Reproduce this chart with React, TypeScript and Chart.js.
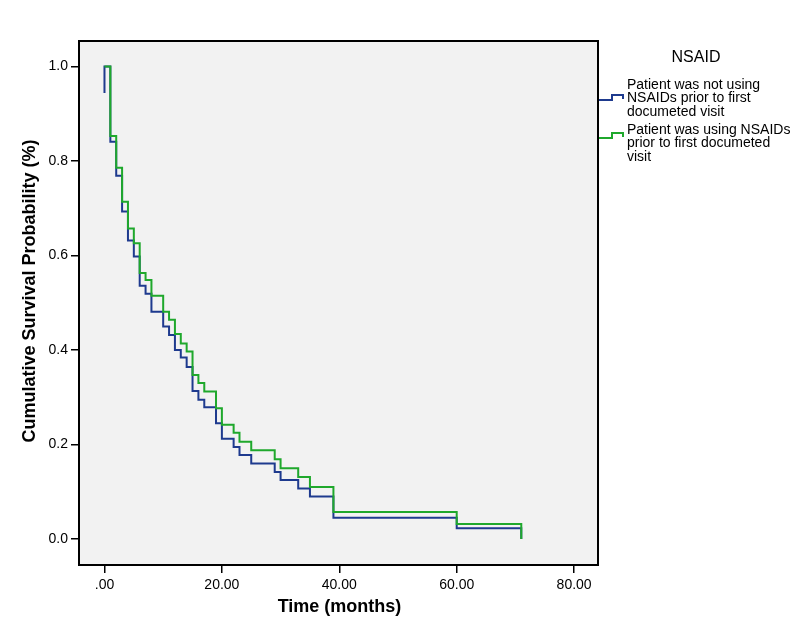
import React, { useEffect, useRef } from 'react';
import { Chart, registerables } from 'chart.js';

Chart.register(...registerables);

// ---- data ----
const times = [0, 1, 2, 3, 4, 5, 6, 7, 8, 10, 11, 12, 13, 14, 15, 16, 17, 19, 20, 22, 23, 25, 29, 30, 33, 35, 39, 60, 71];
const survivalNotUsing = [1.0, 0.841, 0.769, 0.693, 0.632, 0.598, 0.536, 0.519, 0.481, 0.45, 0.432, 0.4, 0.384, 0.364, 0.313, 0.295, 0.279, 0.245, 0.212, 0.195, 0.178, 0.16, 0.142, 0.125, 0.107, 0.09, 0.045, 0.023, 0.0];
const survivalUsing = [1.0, 0.853, 0.786, 0.714, 0.657, 0.626, 0.563, 0.548, 0.515, 0.481, 0.464, 0.434, 0.414, 0.397, 0.347, 0.33, 0.312, 0.277, 0.242, 0.225, 0.206, 0.188, 0.169, 0.15, 0.131, 0.11, 0.057, 0.032, 0.0];
const notUsingStartValue = 0.944;

const xTickValues = [0, 20, 40, 60, 80];
const yTickValues = [0, 0.2, 0.4, 0.6, 0.8, 1.0];

const legendTitle = 'NSAID';
const seriesNames = ['Patient was not using NSAIDs prior to first documeted visit', 'Patient was using NSAIDs prior to first documeted visit'];
const legendLines = [
  ['Patient was not using', 'NSAIDs prior to first', 'documeted visit'],
  ['Patient was using NSAIDs', 'prior to first documeted', 'visit'],
];
const xTitle = 'Time (months)';
const yTitle = 'Cumulative Survival Probability (%)';

const BLUE = '#1e3a8e';
const GREEN = '#1fa82c';
const FONT = "Arial, 'Liberation Sans', sans-serif";

const decorPlugin = {
  id: 'decor',
  beforeDraw(chart: any) {
    const { ctx, chartArea } = chart;
    const { left, top, right, bottom } = chartArea;
    ctx.save();
    ctx.fillStyle = '#ffffff';
    ctx.fillRect(0, 0, chart.width, chart.height);
    ctx.fillStyle = '#f2f2f2';
    ctx.fillRect(left, top, right - left, bottom - top);
    ctx.restore();
  },
  afterDraw(chart: any) {
    const { ctx, chartArea } = chart;
    const { left, top, right, bottom } = chartArea;
    ctx.save();
    // plot frame
    ctx.strokeStyle = '#000';
    ctx.lineWidth = 2;
    ctx.strokeRect(left, top, right - left, bottom - top);

    // axis titles
    ctx.fillStyle = '#000';
    ctx.font = `bold 18px ${FONT}`;
    ctx.textAlign = 'center';
    ctx.textBaseline = 'middle';
    ctx.fillText(xTitle, (left + right) / 2 + 1, 607);
    ctx.save();
    ctx.translate(30, 291);
    ctx.rotate(-Math.PI / 2);
    ctx.fillText(yTitle, 0, 0);
    ctx.restore();

    // legend
    ctx.font = `16px ${FONT}`;
    ctx.textAlign = 'center';
    ctx.fillText(legendTitle, 696, 58);
    const colors = [BLUE, GREEN];
    const blockTops = [85, 130];
    const iconY = [100, 138];
    ctx.font = `14px ${FONT}`;
    ctx.textAlign = 'left';
    legendLines.forEach((lines, i) => {
      lines.forEach((ln, j) => {
        ctx.fillStyle = '#000';
        ctx.fillText(ln, 627, blockTops[i] + j * 13.6);
      });
      const y = iconY[i];
      ctx.strokeStyle = colors[i];
      ctx.lineWidth = 2;
      ctx.beginPath();
      ctx.moveTo(599, y);
      ctx.lineTo(612, y);
      ctx.lineTo(612, y - 5);
      ctx.lineTo(623, y - 5);
      ctx.lineTo(623, y - 1);
      ctx.stroke();
    });
    ctx.restore();
  },
};

export default function App() {
  const canvasRef = useRef<HTMLCanvasElement | null>(null);

  useEffect(() => {
    const canvas = canvasRef.current;
    if (!canvas) return;
    const blueData = [{ x: 0, y: notUsingStartValue }, ...times.map((t, i) => ({ x: t, y: survivalNotUsing[i] }))];
    const greenData = times.map((t, i) => ({ x: t, y: survivalUsing[i] }));

    const chart = new Chart(canvas, {
      type: 'line',
      data: {
        datasets: [
          {
            label: seriesNames[1],
            data: greenData,
            borderColor: GREEN,
            borderWidth: 2,
            stepped: true,
            pointRadius: 0,
            fill: false,
            order: 1,
          },
          {
            label: seriesNames[0],
            data: blueData,
            borderColor: BLUE,
            borderWidth: 2,
            stepped: true,
            pointRadius: 0,
            fill: false,
            order: 2,
          },
        ],
      },
      options: {
        animation: false,
        responsive: false,
        devicePixelRatio: 1,
        parsing: true,
        layout: { padding: { left: 0, top: 41, right: 202, bottom: 0 } },
        plugins: {
          legend: { display: false },
          tooltip: { enabled: false },
          title: { display: false },
        },
        scales: {
          x: {
            type: 'linear',
            min: -4.34,
            max: 84.07,
            afterFit(scale: any) {
              scale.height = 75;
            },
            afterBuildTicks(scale: any) {
              scale.ticks = xTickValues.map((v) => ({ value: v }));
            },
            ticks: {
              stepSize: 20,
              includeBounds: false,
              maxRotation: 0,
              autoSkip: false,
              padding: 4,
              color: '#000',
              font: { size: 14, family: FONT },
              callback: (v: any) => (Number(v) === 0 ? '.00' : Number(v).toFixed(2)),
            },
            grid: {
              display: true,
              drawOnChartArea: false,
              drawTicks: true,
              tickLength: 8,
              color: '#000',
              lineWidth: 1.5,
            },
            border: { display: false },
          },
          y: {
            type: 'linear',
            min: -0.055,
            max: 1.054,
            afterFit(scale: any) {
              scale.width = 79;
            },
            afterBuildTicks(scale: any) {
              scale.ticks = yTickValues.map((v) => ({ value: v }));
            },
            ticks: {
              stepSize: 0.2,
              includeBounds: false,
              autoSkip: false,
              padding: 3,
              color: '#000',
              font: { size: 14, family: FONT },
              callback: (v: any) => Number(v).toFixed(1),
            },
            grid: {
              display: true,
              drawOnChartArea: false,
              drawTicks: true,
              tickLength: 8,
              color: '#000',
              lineWidth: 1.5,
            },
            border: { display: false },
          },
        },
      },
      plugins: [decorPlugin],
    });
    return () => chart.destroy();
  }, []);

  return (
    <div style={{ position: 'fixed', left: 0, top: 0, width: 800, height: 640, background: '#fff' }}>
      <canvas ref={canvasRef} width={800} height={640} style={{ width: 800, height: 640, display: 'block' }} />
    </div>
  );
}
